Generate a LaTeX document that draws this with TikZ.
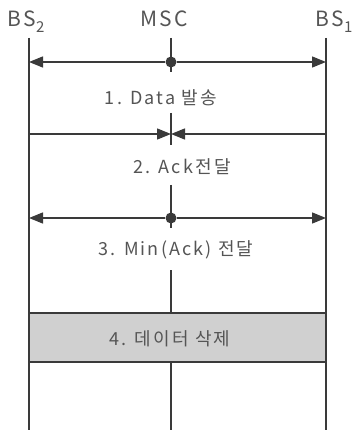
\documentclass[tikz,border=0pt]{standalone}
\usepackage{fontspec}
\setmainfont{Noto Sans CJK KR}
\newfontfamily\spaced[LetterSpace=12]{Noto Sans CJK KR}
\usetikzlibrary{arrows.meta}
\definecolor{ink}{HTML}{3A3A3A}
\definecolor{txt}{HTML}{555555}
\definecolor{boxfill}{HTML}{D0D0D0}
\newcommand{\subs}[1]{{\fontsize{15}{15}\selectfont\raisebox{-6pt}{#1}}}
\tikzset{
  life/.style={draw=ink, line width=1.4pt},
  msg/.style={draw=ink, line width=1.4pt, -{Triangle[length=14pt,width=11pt]}},
  dotm/.style={circle, fill=ink, inner sep=0pt, minimum size=11pt},
  head/.style={text=txt, font=\spaced\fontsize{21}{23}\selectfont, inner sep=0pt, anchor=base},
  lab/.style={text=txt, font=\spaced\fontsize{18}{20}\selectfont, inner sep=0pt},
  delbox/.style={draw=ink, line width=1.4pt, fill=boxfill, minimum width=297pt, minimum height=49pt, inner sep=0pt, text=txt, font=\spaced\fontsize{18}{20}\selectfont}
}
\begin{document}
\begin{tikzpicture}[x=1pt,y=-1pt]
\useasboundingbox (0,0) rectangle (357,430);
\fill[white] (0,0) rectangle (357,430);
% headers
\node[head] (bs2) at (26,27) {BS\subs{2}};
\node[head] (msc) at (164,27) {MSC};
\node[head] (bs1) at (334,27) {BS\subs{1}};
% lifelines
\coordinate (L0) at (29,38); \coordinate (L1) at (29,430);
\coordinate (R0) at (326,38); \coordinate (R1) at (326,430);
\draw[life] (L0) -- (L1);
\draw[life] (R0) -- (R1);
% middle segments
\coordinate (M0a) at (171,38); \coordinate (M0b) at (171,72);
\coordinate (M1a) at (171,113); \coordinate (M1b) at (171,145);
\coordinate (M2a) at (171,185); \coordinate (M2b) at (171,228);
\coordinate (M3a) at (171,270); \coordinate (M3b) at (171,313);
\coordinate (M4a) at (171,362); \coordinate (M4b) at (171,430);
\draw[life] (M0a) -- (M0b);
\draw[life] (M1a) -- (M1b);
\draw[life] (M2a) -- (M2b);
\draw[life] (M3a) -- (M3b);
\draw[life] (M4a) -- (M4b);
% step 1
\node[dotm] (d1) at (171,62) {};
\coordinate (a1l) at (29,62); \coordinate (a1r) at (326,62);
\draw[msg] (d1) -- (a1l);
\draw[msg] (d1) -- (a1r);
\node[lab] (t1) at (161,98) {1. Data 발송};
% step 2
\coordinate (c2) at (171,134);
\coordinate (a2l) at (29,134); \coordinate (a2r) at (326,134);
\draw[msg] (a2l) -- (c2);
\draw[msg] (a2r) -- (c2);
\node[lab] (t2) at (182,167) {2. Ack전달};
% step 3
\node[dotm] (d3) at (171,218) {};
\coordinate (a3l) at (29,218); \coordinate (a3r) at (326,218);
\draw[msg] (d3) -- (a3l);
\draw[msg] (d3) -- (a3r);
\node[lab] (t3) at (176,250) {3. Min(Ack) 전달};
% step 4
\node[delbox] (box) at (177.5,337.5) {};
\node[lab] (t4) at (170,339) {4. 데이터 삭제};
\end{tikzpicture}
\end{document}
